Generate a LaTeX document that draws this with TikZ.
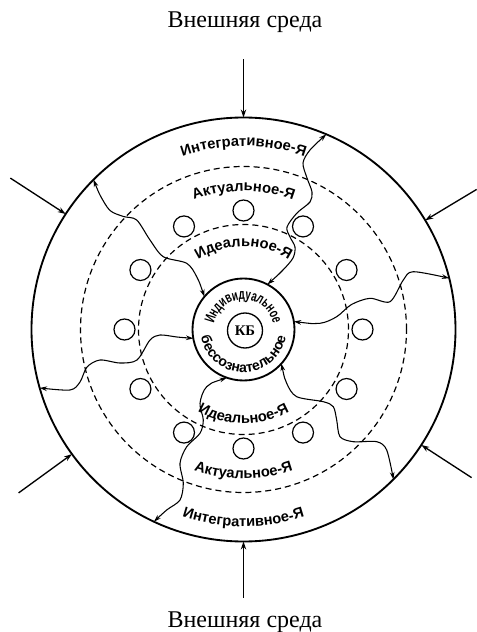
\documentclass[tikz,border=0pt]{standalone}
\usepackage{fontspec}
\setmainfont{Liberation Serif}
\newfontfamily\ringfont{Liberation Sans}
\newfontfamily\corefont{Liberation Sans}[FakeStretch=0.66]
\usetikzlibrary{arrows.meta,decorations.text}

\begin{document}
\begin{tikzpicture}[x=0.75pt, y=0.75pt,
  ring/.style={circle, draw, line width=1.4pt, inner sep=0pt, outer sep=0pt},
  zone/.style={dash pattern=on 4.5pt off 3pt, line width=0.9pt},
  cell/.style={circle, draw, line width=0.9pt, minimum size=15.75pt, inner sep=0pt},
  influence/.style={-{Stealth[length=6pt,width=4pt]}, line width=1pt},
  flow/.style={{Stealth[length=5.5pt,width=3.5pt]}-{Stealth[length=5.5pt,width=3.5pt]}, line width=0.8pt},
  envlabel/.style={font=\fontsize{18}{20}\selectfont, anchor=base, inner sep=0pt},
  arclabel/.style={decorate, decoration={text along path, text align=center,
      text={|\ringfont\bfseries\fontsize{11}{13}\selectfont|#1}}},
  corelabel/.style={decorate, decoration={text along path, text align=center,
      text={|\corefont\bfseries\fontsize{11}{12}\selectfont|#1}}},
  basslabel/.style={decorate, decoration={text along path, text align=center,
      text={|\ringfont\bfseries\fontsize{10.5}{12}\selectfont|#1}}}]
\useasboundingbox (-243.5,-302.5) rectangle (233.5,329.5);
% Circles
\node[ring, minimum size=318pt] (outer) at (0,0) {};
\draw[zone] (0,0) circle[radius=163];
\draw[zone] (0,0) circle[radius=105];
\node[ring, minimum size=76.5pt] (core) at (0,0) {};
\node[ring, line width=1pt, minimum size=26.25pt, font=\bfseries\fontsize{11}{12}\selectfont] (kb) at (1.5,-1) {КБ};
\foreach \a [count=\i] in {0,30,...,330}
  \node[cell] (cell\i) at (\a:119) {};
% External environment
\node[envlabel] (envtop) at (1.5,301.5) {Внешняя среда};
\node[envlabel] (envbottom) at (1.5,-297.5) {Внешняя среда};
\foreach \a/\r in {90/270, 270/268, 147/278, 31/272, 216/278, 327/272} {
  \coordinate (env\a) at (\a:\r);
  \draw[influence] (env\a) -- (outer.\a);
}
% Ring labels, upper half
\path[arclabel={Интегративное-Я}] (180:183.5) arc[start angle=180, end angle=0, radius=183.5];
\path[arclabel={Актуальное-Я}] (180:138.5) arc[start angle=180, end angle=0, radius=138.5];
\path[arclabel={Идеальное-Я}] (180:83) arc[start angle=180, end angle=0, radius=83];
% Ring labels, lower half
\path[arclabel={Интегративное-Я}] (180:197) arc[start angle=180, end angle=360, radius=197];
\path[arclabel={Актуальное-Я}] (180:149) arc[start angle=180, end angle=360, radius=149];
\path[arclabel={Идеальное-Я}] (180:94) arc[start angle=180, end angle=360, radius=94];
% Core labels
\path[corelabel={Индивидуальное}] (180:30) arc[start angle=180, end angle=0, radius=30];
\path[basslabel={бессознательное}] (180:43) arc[start angle=180, end angle=360, radius=43];
% Links between core and outer ring
\draw[flow] plot[smooth] coordinates {(core.62) (39.5,59.5) (49.5,71.5) (51.5,82.5) (46.5,92.5) (43.5,102.5) (53.5,116.5) (66.5,127.5) (68.5,137.5) (63.5,151.5) (59.5,166.5) (66.5,179.5) (outer.67)};
\draw[flow] plot[smooth] coordinates {(core.140) (-46.8,52.8) (-56.8,66.2) (-80.2,72.8) (-93.5,89.5) (-106.8,109.5) (-120,113) (-133.5,119) (-143.5,134.5) (outer.135)};
\draw[flow] plot[smooth] coordinates {(core.9) (76.5,6.2) (93.2,12.8) (108,25) (126.5,31.2) (146.5,27.8) (159.8,49.5) (169.8,57.8) (outer.14)};
\draw[flow] plot[smooth] coordinates {(core.190) (-66.5,-7.5) (-83.5,-5.5) (-93.5,-10.5) (-106.5,-30.5) (-123.5,-33.5) (-143.5,-30.5) (-156.5,-37.5) (-163.5,-52.5) (-173.5,-60.5) (outer.196)};
\draw[flow] plot[smooth] coordinates {(core.251) (-36.8,-57.2) (-43.5,-73.8) (-40.2,-90.5) (-43.5,-103.8) (-56.8,-117.2) (-63.5,-133.8) (-60.2,-153.8) (-63.5,-170.5) (-76.8,-180.5) (outer.245)};
\draw[flow] plot[smooth] coordinates {(core.318) (43.2,-53.8) (53.2,-67.2) (79.8,-72.2) (89.8,-77.2) (93.2,-90.5) (96.5,-107.2) (109.8,-112.2) (133.2,-112.2) (143.2,-120.5) (outer.315)};
\end{tikzpicture}
\end{document}
